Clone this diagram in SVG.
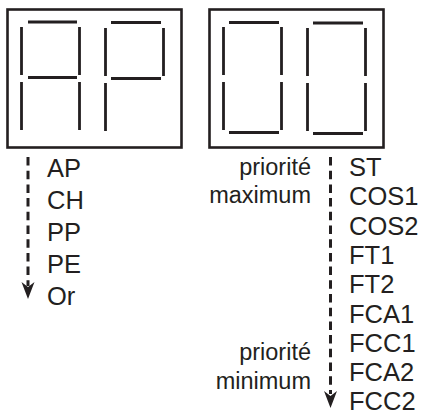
<svg xmlns="http://www.w3.org/2000/svg" width="423" height="410" viewBox="0 0 423 410">
<style>
.frame{fill:none;stroke:#231f20;stroke-width:2.6}
.seg{stroke:#231f20;stroke-width:2.8;stroke-linecap:butt;fill:none}
.dash{stroke:#231f20;stroke-width:3;stroke-dasharray:8.5 5.2;fill:none}
.t{font-family:"Liberation Sans",Arial,sans-serif;font-size:25.5px;fill:#231f20}
.p{font-family:"Liberation Sans",Arial,sans-serif;font-size:23.5px;fill:#231f20;text-anchor:end}
.head{fill:#231f20}
</style>
<rect width="423" height="410" fill="#fff"/>
<g id="display-left">
<rect class="frame" x="7.5" y="9.5" width="174" height="138"/>
<g id="digit-A">
<path class="seg" d="M28 22H77M28 77.5H77M21.5 27V75M79.5 27V75M21.5 82V130M79.5 82V130"/>
</g>
<g id="digit-P">
<path class="seg" d="M111 22.5H161M111 78.5H161M105.5 28V76M163.5 28V76M105.5 83V131"/>
</g>
</g>
<g id="display-right">
<rect class="frame" x="209.5" y="9.5" width="174" height="138"/>
<g id="digit-0a">
<path class="seg" d="M229 22.5H279M229 132.5H279M223.5 27V75M281.5 27V75M223.5 82V130M281.5 82V130"/>
</g>
<g id="digit-0b">
<path class="seg" d="M313 23H363M313 133.5H363M307.5 28V76M365.5 28V76M307.5 83V131M365.5 83V131"/>
</g>
</g>
<g id="connectors">
<path class="dash" d="M28 157V286"/>
<polygon class="head" points="28,299 21.5,282 28,287 34.5,282"/>
<path class="dash" d="M330.5 157V394"/>
<polygon class="head" points="330.5,408 324,391 330.5,396 337,391"/>
</g>
<g id="list-left">
<text class="t" x="47" y="177">AP</text>
<text class="t" x="47" y="209">CH</text>
<text class="t" x="47" y="241">PP</text>
<text class="t" x="47" y="273">PE</text>
<text class="t" x="47" y="305">Or</text>
</g>
<g id="labels-priority">
<text class="p" x="311" y="175">priorité</text>
<text class="p" x="311" y="203">maximum</text>
<text class="p" x="311" y="360">priorité</text>
<text class="p" x="311" y="389">minimum</text>
</g>
<g id="list-right">
<text class="t" x="349" y="176">ST</text>
<text class="t" x="349" y="205.3">COS1</text>
<text class="t" x="349" y="234.6">COS2</text>
<text class="t" x="349" y="263.9">FT1</text>
<text class="t" x="349" y="293.2">FT2</text>
<text class="t" x="349" y="322.5">FCA1</text>
<text class="t" x="349" y="351.8">FCC1</text>
<text class="t" x="349" y="381.1">FCA2</text>
<text class="t" x="349" y="410.4">FCC2</text>
</g>
</svg>
